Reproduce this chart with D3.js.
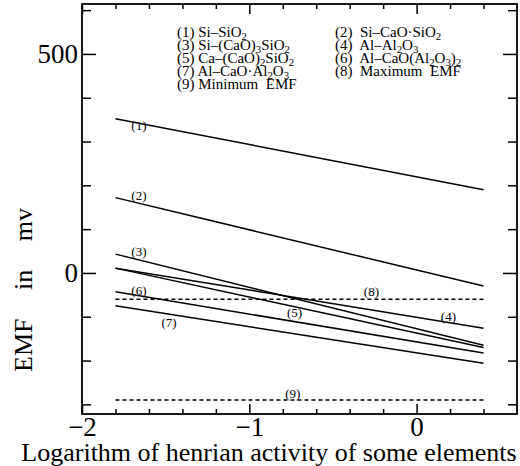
<!DOCTYPE html>
<html>
<head>
<meta charset="utf-8">
<script src="https://cdn.jsdelivr.net/npm/d3@7"></script>
<style>
  body { margin: 0; background: #fff; }
  svg text { font-family: "Liberation Serif", "Times New Roman", serif; fill: #000; white-space: pre; }
</style>
</head>
<body>
<div id="chart"></div>
<script>
// x range of the computed lines
var xEnds = [-1.8, 0.4];

// solid lines (1)..(7): EMF at left end, EMF at right end
var lineIds = ['(1)', '(2)', '(3)', '(4)', '(5)', '(6)', '(7)'];
var lineValues = [[352, 190], [172, -30], [43, -165], [11, -126], [11, -170], [-43, -183], [-75, -206]];

// dashed limits (8) max, (9) min
var dashIds = ['(8)', '(9)'];
var dashValues = [[-60, -60], [-290, -290]];

// label anchors in data units
var labelIds = ['(1)', '(2)', '(3)', '(6)', '(7)', '(5)', '(8)', '(4)', '(9)'];
var labelX = [-1.66, -1.66, -1.66, -1.66, -1.48, -0.73, -0.27, 0.19, -0.74];
var labelY = [336, 176, 48, -39, -114, -91, -43, -100, -274];

// legend text, "_n" marks a subscript
var legendLeft = ['(1) Si\u2013SiO_2', '(3) Si\u2013(CaO)_3SiO_2', '(5) Ca\u2013(CaO)_2SiO_2', '(7) Al\u2013CaO\u00b7Al_2O_3', '(9) Minimum  EMF'];
var legendRight = ['(2)  Si\u2013CaO\u00b7SiO_2', '(4)  Al\u2013Al_2O_3', '(6)  Al\u2013CaO(Al_2O_3)_2', '(8)  Maximum  EMF'];

// ticks
var xMajor = [-2, -1, 0];
var xMinor = [-1.8, -1.6, -1.4, -1.2, -0.8, -0.6, -0.4, -0.2, 0.2, 0.4];
var yMajor = [0, 500];
var yMinor = [-300, -200, -100, 100, 200, 300, 400, 600];

var width = 520, height = 466;
var pLeft = 82, pRight = 517, pTop = 4, pBottom = 414;

var svg = d3.select('#chart')
	.append('svg')
	.attr('width', width)
	.attr('height', height);

var x = d3.scaleLinear().domain([-2, 0.6]).range([pLeft, pRight]);
var y = d3.scaleLinear().domain([-322, 614]).range([pBottom, pTop]);

// axes: ticks point into the frame
function addAxis(axis, tx, ty, size) {
	var g = svg.append('g')
		.attr('transform', 'translate(' + tx + ',' + ty + ')')
		.call(axis);
	g.select('.domain').remove();
	g.selectAll('.tick line').attr('stroke', '#000').attr('stroke-width', 1.5);
	g.selectAll('.tick text')
		.style('font-family', '"Liberation Serif", serif')
		.style('font-size', size + 'px');
	return g;
}

var fmt = function(d) { return d < 0 ? '\u2212' + Math.abs(d) : d; };

addAxis(d3.axisBottom(x).tickValues(xMajor).tickSize(-10).tickPadding(3).tickFormat(fmt), 0, pBottom, 27);
addAxis(d3.axisBottom(x).tickValues(xMinor).tickSize(-5).tickFormat(''), 0, pBottom, 10);
addAxis(d3.axisTop(x).tickValues(xMajor).tickSize(-10).tickFormat(''), 0, pTop, 10);
addAxis(d3.axisTop(x).tickValues(xMinor).tickSize(-5).tickFormat(''), 0, pTop, 10);

addAxis(d3.axisLeft(y).tickValues(yMajor).tickSize(-14).tickPadding(4).tickFormat(fmt), pLeft, 0, 27);
addAxis(d3.axisLeft(y).tickValues(yMinor).tickSize(-9).tickFormat(''), pLeft, 0, 10);
addAxis(d3.axisRight(y).tickValues(yMajor).tickSize(-14).tickFormat(''), pRight, 0, 10);
addAxis(d3.axisRight(y).tickValues(yMinor).tickSize(-9).tickFormat(''), pRight, 0, 10);

// frame
svg.append('rect')
	.attr('x', pLeft)
	.attr('y', pTop)
	.attr('width', pRight - pLeft)
	.attr('height', pBottom - pTop)
	.attr('fill', 'none')
	.attr('stroke', '#000')
	.attr('stroke-width', 1.8);

var line = d3.line()
	.x(function(d) { return x(d[0]); })
	.y(function(d) { return y(d[1]); });

function pts(v) { return [[xEnds[0], v[0]], [xEnds[1], v[1]]]; }

svg.selectAll('.emf')
	.data(lineValues)
	.enter().append('path')
	.attr('class', 'emf')
	.attr('d', function(d) { return line(pts(d)); })
	.attr('fill', 'none')
	.attr('stroke', '#000')
	.attr('stroke-width', 1.5);

svg.selectAll('.limit')
	.data(dashValues)
	.enter().append('path')
	.attr('class', 'limit')
	.attr('d', function(d) { return line(pts(d)); })
	.attr('fill', 'none')
	.attr('stroke', '#000')
	.attr('stroke-width', 1.3)
	.attr('stroke-dasharray', '4,3');

// line numbers
svg.selectAll('.num')
	.data(labelIds)
	.enter().append('text')
	.attr('class', 'num')
	.attr('x', function(d, i) { return x(labelX[i]); })
	.attr('y', function(d, i) { return y(labelY[i]); })
	.attr('dy', '.35em')
	.style('text-anchor', 'middle')
	.style('font-size', '13px')
	.text(function(d) { return d; });

// text with subscripts
function richText(sel, str, size) {
	var parts = str.split(/_(\d)/);
	parts.forEach(function(p, i) {
		if (p === '') return;
		var isSub = i % 2 === 1;
		var t = sel.append('tspan').text(p);
		if (isSub) {
			t.attr('dy', 3).style('font-size', (size * 0.72) + 'px');
		} else {
			t.style('font-size', size + 'px');
			if (i > 0) t.attr('dy', -3);
		}
	});
}

function legend(items, lx) {
	items.forEach(function(s, i) {
		var t = svg.append('text')
			.attr('x', lx)
			.attr('y', 37 + i * 12.9);
		richText(t, s, 15);
	});
}
legend(legendLeft, 177);
legend(legendRight, 335);

// axis titles
svg.append('text')
	.attr('x', 269)
	.attr('y', 461)
	.style('text-anchor', 'middle')
	.style('font-size', '26px')
	.text('Logarithm of henrian activity of some elements');

svg.append('text')
	.attr('transform', 'translate(32,290) rotate(-90)')
	.style('text-anchor', 'middle')
	.style('font-size', '26px')
	.style('word-spacing', '22px')
	.text('EMF in mv');
</script>
</body>
</html>
